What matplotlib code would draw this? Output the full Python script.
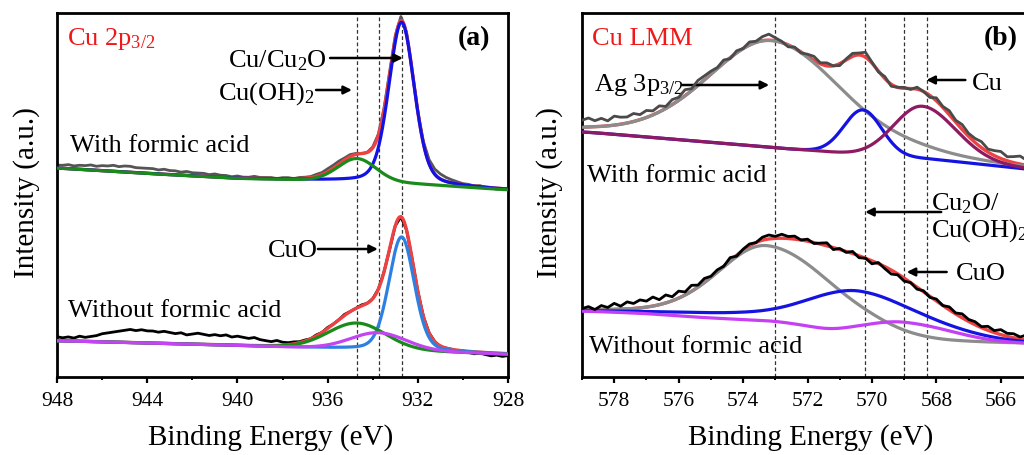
import numpy as np
import matplotlib
matplotlib.use('Agg')
import matplotlib.pyplot as plt
from matplotlib.ticker import MultipleLocator

plt.rcParams['font.family'] = 'Liberation Serif'
plt.rcParams['mathtext.fontset'] = 'custom'
plt.rcParams['mathtext.rm'] = 'Liberation Serif'
plt.rcParams['mathtext.bf'] = 'Liberation Serif:bold'
plt.rcParams['mathtext.default'] = 'regular'

#============================== data (a) Cu 2p3/2 ==============================
# background points (binding energy, intensity a.u.)
a_bg_e = [948, 944, 940, 937, 934, 932, 930, 928]
a_bg_with = [209, 203.5, 198.5, 197, 195, 193, 190, 187]
a_bg_without = [36.3, 34, 31.5, 29.6, 27.5, 26, 24.5, 22.7]
# fitted peaks: centre, height, fwhm (high BE side), fwhm (low BE side), lorentz fraction
a_with_cuoh2 = (934.7, 23, 2.0, 2.0, 0.1)
a_with_cu = (932.72, 161, 1.33, 1.33, 0.25)
a_without_cuoh2 = (934.7, 26, 3.0, 3.0, 0.05)
a_without_cuo = (933.75, 17, 2.9, 2.9, 0.05)
a_without_cu = (932.72, 113.5, 1.33, 1.33, 0.2)
# raw spectra = envelope + residual, 0.25 eV steps from 948 to 928
a_res_with = [3, 3, 4, 3, 4, 4, 5, 4, 5, 5, 6, 5, 6, 6, 5, 5, 5,
              5, 4, 5, 4, 4, 3, 4, 3, 3, 3, 2, 3,
              2, 2, 1, 2, 1, 1, 2, 1, 1, 1, 0, 1, 1, 0, 1, 1,
              1, 2, 2, 3, 3, 3, 2, 2, 1, 0, 0, 1,
              1, 2, 3, 3, 4, 2, 0, 0,
              2, 4, 5, 5, 4, 3, 2, 1, 1, 0, 1, 0, 0, -1, 0, 0]
a_res_without = [4, 3, 4, 3, 5, 4, 5, 6, 8, 9, 10, 11, 12, 13, 12, 13, 12,
                 12, 11, 12, 11, 10, 11, 9, 10, 11, 10, 9, 10,
                 9, 10, 8, 9, 8, 7, 8, 6, 5, 4, 5, 3, 2, 2, 1, 1,
                 0, 1, 0, 1, 0, 0, 1, 0, 0, 1, 0, 0,
                 0, 0, -1, 0, 0, 0, 0, 0,
                 0, 0, 0, -1, 0, 0, -1, 0, -1, -2, -1, -2, -3, -2, -3, -2]
a_lines = [934.7, 933.7, 932.7]

#============================== data (b) Cu LMM ==============================
b_bg_e_with = [579, 577, 575, 573, 571.6, 570.2, 568.3, 567, 565]
b_bg_with = [245.3, 240, 234.5, 229, 225.5, 220.5, 218.4, 214, 207]
b_bg_e_without = [579, 576, 574, 573, 572, 571, 570, 569, 568, 565]
b_bg_without = [66.5, 65, 63, 60, 55, 48, 43, 37, 34.5, 33]
# the CuO component in (b) sits on its own, earlier falling baseline
b_bg_e_cuo = [579, 577, 576, 575, 574, 573, 572, 571.4, 570.5, 569.5, 569, 568.3, 567, 565]
b_bg_cuo = [66, 63.5, 61, 59, 57.5, 56, 51, 46, 44, 38, 36, 34.5, 33.5, 33]
b_with_ag = (573.13, 107, 4.7, 5.2, 0.25)
b_with_cu2o = (570.28, 46, 1.4, 1.4, 0.05)
b_with_cu = (568.45, 52.4, 2.1, 2.5, 0.1)
b_without_ag = (573.25, 70.7, 3.5, 4.8, 0.15)
b_without_cu2o = (570.35, 41, 3.55, 5.0, 0.0)
b_without_cuo = (569.0, 18.5, 2.6, 3.6, 0.0)
# 0.2 eV steps from 579 to 565
b_res_with = [7, 9, 6, 8, 5, 9, 7, 6, 8, 5, 7,
              4, 6, 2, 5, 3, 6, 2, 5, 4, 3,
              1, 3, -1, 2, 0, 3, 1, 4, 6, 3,
              1, -2, 1, -1, 2, 4, 1, 3, 0, -2,
              1, 3, 2, 5, 1, -1, 2, -2, 0, 1,
              -1, 2, 0, -2, 3, 1, 4, 2, 5, 3,
              4, 6, 3, 5, 7, 4, 6, 8, 5, 7]
b_res_without = [1, 3, 0, 4, 2, 6, 3, 7, 5, 8, 6,
                 9, 5, 8, 4, 7, 3, 6, 2, 4, 1,
                 2, 0, 3, -1, 1, 2, 0, 3, 4, 2,
                 4, 2, 3, 0, 2, -1, 1, 3, -2, 1,
                 -1, 2, -2, 0, -3, 1, -2, -4, -1, -3,
                 0, -2, 1, -1, 2, 0, 3, 1, 4, 2,
                 3, 1, 4, 2, 5, 3, 4, 2, 5, 3]
b_lines = [573.0, 570.2, 569.0, 568.3]

RED = '#ee4242'


def peak(e, p):
    c, h, whi, wlo, eta = p
    w = np.where(e >= c, whi, wlo)
    u = ((e - c) / w) ** 2
    return h * ((1 - eta) * np.exp(-4 * np.log(2) * u) + eta / (1 + 4 * u))


def background(e, bge, bgv, sigma=0.35):
    # np.interp wants rising x, then a little smoothing so the corners go away
    line = np.interp(e, bge[::-1], bgv[::-1])
    step = abs(e[1] - e[0])
    n = int(4 * sigma / step)
    k = np.exp(-0.5 * (np.arange(-n, n + 1) * step / sigma) ** 2)
    k /= k.sum()
    return np.convolve(np.pad(line, n, mode='edge'), k, mode='valid')


def spectrum(ax, e, bge, bgv, peaks, colors, e_raw, res, raw_color, raw_z, own_bg=None):
    bg = background(e, bge, bgv)
    env = bg.copy()
    for p in peaks:
        env = env + peak(e, p)
    env_r = np.interp(e_raw, e[::-1], env[::-1])
    ax.plot(e_raw, env_r + np.array(res), color=raw_color, lw=2.0, zorder=raw_z)
    ax.plot(e, env, color=RED, lw=2.4, zorder=2)
    for i, (p, col) in enumerate(zip(peaks, colors)):
        base = bg
        if own_bg is not None and own_bg[i] is not None:
            base = background(e, *own_bg[i])
        ax.plot(e, base + peak(e, p), color=col, lw=2.3, zorder=3 + i)


def style(ax, xlim, major, minor):
    ax.set_xlim(*xlim)
    ax.set_ylim(0, 364)
    ax.set_yticks([])
    ax.set_xticks(major)
    ax.xaxis.set_minor_locator(MultipleLocator(minor))
    ax.tick_params(axis='x', which='major', direction='out', length=4, width=1.6,
                   labelsize=15.5, pad=7)
    ax.tick_params(axis='x', which='minor', direction='out', length=2.5, width=1.4)
    for s in ax.spines.values():
        s.set_linewidth(2.0)


def arrow(ax, x0, x1, y):
    ax.annotate('', xy=(x1, y), xytext=(x0, y),
                arrowprops=dict(arrowstyle='-|>', color='k', lw=1.8,
                                mutation_scale=12, shrinkA=0, shrinkB=0))


fig = plt.figure(figsize=(10.24, 4.55), dpi=100)
ax_a = fig.add_axes([57 / 1024, 78 / 455, 451 / 1024, 364 / 455])
ax_b = fig.add_axes([582 / 1024, 78 / 455, 451 / 1024, 364 / 455])

#------------------------------- panel (a) -------------------------------
ea = np.linspace(948, 928, 1201)
ea_raw = 948 - 0.25 * np.arange(81)
spectrum(ax_a, ea, a_bg_e, a_bg_with, [a_with_cu, a_with_cuoh2],
         ['#1212e6', '#1a8a1a'], ea_raw, a_res_with, '#555555', 1)
spectrum(ax_a, ea, a_bg_e, a_bg_without, [a_without_cu, a_without_cuoh2, a_without_cuo],
         ['#2d80e2', '#1a8a1a', '#c244f2'], ea_raw, a_res_without, 'black', 1)
for x in a_lines:
    ax_a.axvline(x, color='#333333', lw=0.9, ls=(0, (3, 2)), zorder=0)
style(ax_a, (948, 928), np.arange(948, 927, -4), 2)

ax_a.text(947.57, 332, 'Cu 2p$_{3/2}$', color='#f01818', fontsize=19, ha='left', va='baseline')
ax_a.text(928.8, 332, '(a)', fontsize=20, fontweight='bold', ha='right', va='baseline')
ax_a.text(936.03, 310, 'Cu/Cu$_2$O', fontsize=19, ha='right', va='baseline')
arrow(ax_a, 935.89, 932.66, 319)
ax_a.text(936.56, 277, 'Cu(OH)$_2$', fontsize=19, ha='right', va='baseline')
arrow(ax_a, 936.51, 934.92, 287)
ax_a.text(947.42, 225, 'With formic acid', fontsize=19, ha='left', va='baseline')
ax_a.text(936.45, 120.3, 'CuO', fontsize=19, ha='right', va='baseline')
arrow(ax_a, 936.43, 933.77, 128)
ax_a.text(947.51, 60.3, 'Without formic acid', fontsize=19, ha='left', va='baseline')

#------------------------------- panel (b) -------------------------------
eb = np.linspace(579, 565, 1201)
eb_raw = 579 - 0.2 * np.arange(71)
spectrum(ax_b, eb, b_bg_e_with, b_bg_with, [b_with_ag, b_with_cu2o, b_with_cu],
         ['#8c8c8c', '#1414e2', '#8e1a62'], eb_raw, b_res_with, '#4a4a4a', 10)
spectrum(ax_b, eb, b_bg_e_without, b_bg_without, [b_without_ag, b_without_cu2o, b_without_cuo],
         ['#8c8c8c', '#1414e2', '#c440f2'], eb_raw, b_res_without, 'black', 10,
         own_bg=[None, None, (b_bg_e_cuo, b_bg_cuo)])
for x in b_lines:
    ax_b.axvline(x, color='#333333', lw=0.9, ls=(0, (3, 2)), zorder=0)
style(ax_b, (579, 565), np.arange(578, 565, -2), 1)

ax_b.text(578.68, 332, 'Cu LMM', color='#f01818', fontsize=19, ha='left', va='baseline')
ax_b.text(565.48, 332, '(b)', fontsize=20, fontweight='bold', ha='right', va='baseline')
ax_b.text(578.62, 286.3, 'Ag 3p$_{3/2}$', fontsize=19, ha='left', va='baseline')
arrow(ax_b, 575.89, 573.19, 292)
ax_b.text(566.91, 287, 'Cu', fontsize=19, ha='left', va='baseline')
arrow(ax_b, 567.1, 568.31, 297)
ax_b.text(578.83, 195.3, 'With formic acid', fontsize=19, ha='left', va='baseline')
ax_b.text(568.16, 167, 'Cu$_2$O/', fontsize=19, ha='left', va='baseline')
ax_b.text(568.16, 140.5, 'Cu(OH)$_2$', fontsize=19, ha='left', va='baseline')
arrow(ax_b, 567.85, 570.21, 165)
ax_b.text(567.39, 97, 'CuO', fontsize=19, ha='left', va='baseline')
arrow(ax_b, 567.68, 568.92, 105)
ax_b.text(578.78, 23.7, 'Without formic acid', fontsize=19, ha='left', va='baseline')

# axis labels
fig.text(271 / 1024, 1 - 438 / 455, 'Binding Energy (eV)', fontsize=21, ha='center', va='center')
fig.text(811 / 1024, 1 - 438 / 455, 'Binding Energy (eV)', fontsize=21, ha='center', va='center')
fig.text(27 / 1024, 1 - 193 / 455, 'Intensity (a.u.)', fontsize=21, rotation=90, ha='center', va='center')
fig.text(550 / 1024, 1 - 193 / 455, 'Intensity (a.u.)', fontsize=21, rotation=90, ha='center', va='center')

fig.savefig('out.png', dpi=100)
